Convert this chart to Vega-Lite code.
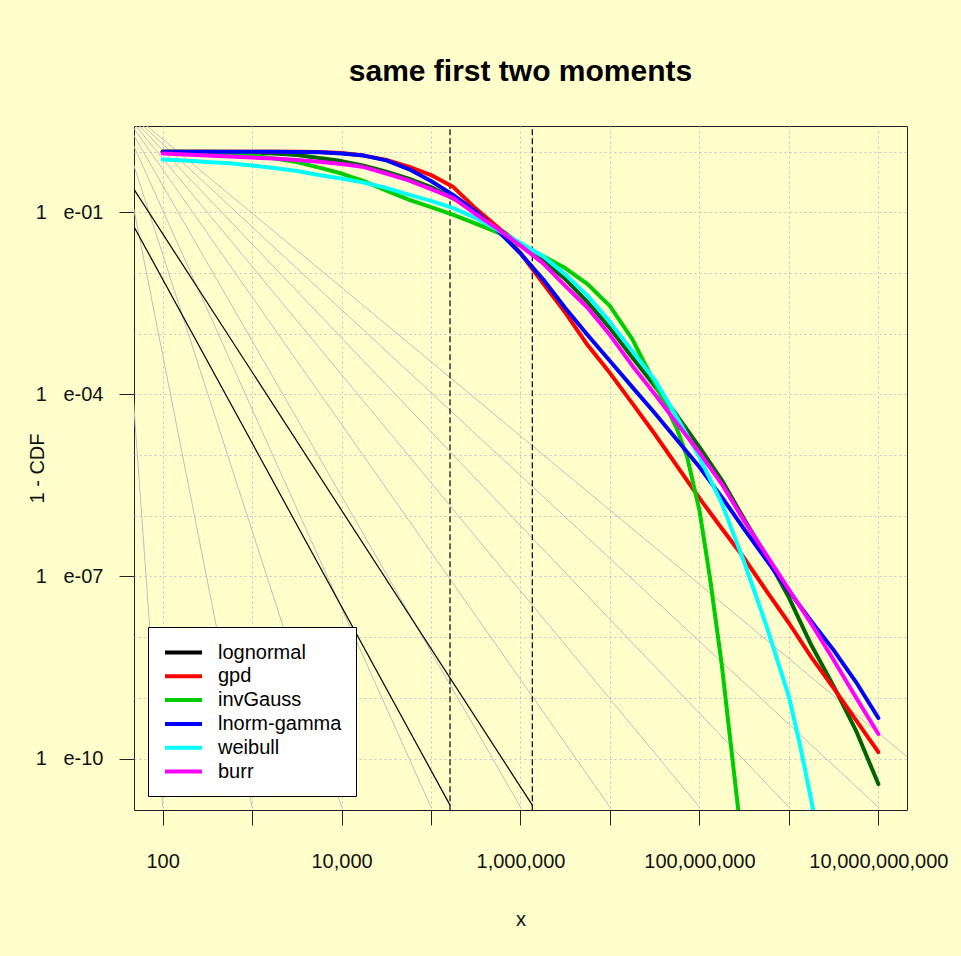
{
  "$schema": "https://vega.github.io/schema/vega-lite/v6.json",
  "width": 773,
  "height": 684,
  "autosize": {"type": "none"},
  "padding": {"left": 134, "top": 126, "right": 54, "bottom": 146},
  "background": "#FFFFCC",
  "config": {
    "view": {"stroke": "#222222", "strokeWidth": 1},
    "font": "Liberation Sans"
  },
  "title": {
    "text": "same first two moments",
    "font": "Liberation Sans",
    "fontSize": 30,
    "fontWeight": "bold",
    "color": "#000000",
    "anchor": "middle",
    "offset": 39
  },
  "datasets": {
    "curves": [
      {"series":"lognormal","x":100,"y":0.992},{"series":"lognormal","x":177.8,"y":0.992},{"series":"lognormal","x":316.2,"y":0.992},{"series":"lognormal","x":562.3,"y":0.989},{"series":"lognormal","x":1000,"y":0.970},{"series":"lognormal","x":1778,"y":0.934},{"series":"lognormal","x":3162,"y":0.876},{"series":"lognormal","x":5623,"y":0.782},{"series":"lognormal","x":1e4,"y":0.697},{"series":"lognormal","x":1.778e4,"y":0.588},{"series":"lognormal","x":3.162e4,"y":0.468},{"series":"lognormal","x":5.623e4,"y":0.358},{"series":"lognormal","x":1e5,"y":0.260},{"series":"lognormal","x":1.778e5,"y":0.168},{"series":"lognormal","x":3.162e5,"y":0.1028},{"series":"lognormal","x":5.623e5,"y":0.0550},{"series":"lognormal","x":1e6,"y":0.0299},{"series":"lognormal","x":1.778e6,"y":0.0163},{"series":"lognormal","x":3.162e6,"y":7.94e-3},{"series":"lognormal","x":5.623e6,"y":3.32e-3},{"series":"lognormal","x":1e7,"y":1.236e-3},{"series":"lognormal","x":1.778e7,"y":4.04e-4},{"series":"lognormal","x":3.162e7,"y":1.37e-4},{"series":"lognormal","x":5.623e7,"y":4.48e-5},{"series":"lognormal","x":1e8,"y":1.355e-5},{"series":"lognormal","x":1.778e8,"y":3.87e-6},{"series":"lognormal","x":3.162e8,"y":8.83e-7},{"series":"lognormal","x":5.623e8,"y":2.13e-7},{"series":"lognormal","x":1e9,"y":4.49e-8},{"series":"lognormal","x":1.778e9,"y":7.41e-9},{"series":"lognormal","x":3.162e9,"y":1.56e-9},{"series":"lognormal","x":5.623e9,"y":2.89e-10},{"series":"lognormal","x":1e10,"y":3.80e-11},
      {"series":"gpd","x":100,"y":0.992},{"series":"gpd","x":177.8,"y":0.992},{"series":"gpd","x":316.2,"y":0.992},{"series":"gpd","x":562.3,"y":0.992},{"series":"gpd","x":1000,"y":0.992},{"series":"gpd","x":1778,"y":0.992},{"series":"gpd","x":3162,"y":0.992},{"series":"gpd","x":5623,"y":0.981},{"series":"gpd","x":1e4,"y":0.945},{"series":"gpd","x":1.778e4,"y":0.859},{"series":"gpd","x":3.162e4,"y":0.730},{"series":"gpd","x":5.623e4,"y":0.566},{"series":"gpd","x":1e5,"y":0.410},{"series":"gpd","x":1.778e5,"y":0.260},{"series":"gpd","x":3.162e5,"y":0.1151},{"series":"gpd","x":5.623e5,"y":0.0560},{"series":"gpd","x":1e6,"y":0.0213},{"series":"gpd","x":1.778e6,"y":6.82e-3},{"series":"gpd","x":3.162e6,"y":2.23e-3},{"series":"gpd","x":5.623e6,"y":6.49e-4},{"series":"gpd","x":1e7,"y":2.24e-4},{"series":"gpd","x":1.778e7,"y":7.10e-5},{"series":"gpd","x":3.162e7,"y":2.22e-5},{"series":"gpd","x":5.623e7,"y":6.59e-6},{"series":"gpd","x":1e8,"y":1.95e-6},{"series":"gpd","x":1.778e8,"y":6.18e-7},{"series":"gpd","x":3.162e8,"y":2.01e-7},{"series":"gpd","x":5.623e8,"y":5.74e-8},{"series":"gpd","x":1e9,"y":1.71e-8},{"series":"gpd","x":1.778e9,"y":4.70e-9},{"series":"gpd","x":3.162e9,"y":1.45e-9},{"series":"gpd","x":5.623e9,"y":4.31e-10},{"series":"gpd","x":1e10,"y":1.28e-10},
      {"series":"invGauss","x":100,"y":0.992},{"series":"invGauss","x":177.8,"y":0.989},{"series":"invGauss","x":316.2,"y":0.974},{"series":"invGauss","x":562.3,"y":0.927},{"series":"invGauss","x":1000,"y":0.859},{"series":"invGauss","x":1778,"y":0.767},{"series":"invGauss","x":3162,"y":0.671},{"series":"invGauss","x":5623,"y":0.545},{"series":"invGauss","x":1e4,"y":0.435},{"series":"invGauss","x":1.778e4,"y":0.327},{"series":"invGauss","x":3.162e4,"y":0.228},{"series":"invGauss","x":5.623e4,"y":0.162},{"series":"invGauss","x":1e5,"y":0.122},{"series":"invGauss","x":1.778e5,"y":0.0910},{"series":"invGauss","x":3.162e5,"y":0.0652},{"series":"invGauss","x":5.623e5,"y":0.0463},{"series":"invGauss","x":1e6,"y":0.0282},{"series":"invGauss","x":1.778e6,"y":0.0190},{"series":"invGauss","x":3.162e6,"y":0.01205},{"series":"invGauss","x":5.623e6,"y":6.56e-3},{"series":"invGauss","x":1e7,"y":2.85e-3},{"series":"invGauss","x":1.778e7,"y":8.15e-4},{"series":"invGauss","x":3.162e7,"y":1.53e-4},{"series":"invGauss","x":5.623e7,"y":2.68e-5},{"series":"invGauss","x":7.24e7,"y":9.62e-6},{"series":"invGauss","x":1e8,"y":1.24e-6},{"series":"invGauss","x":1.312e8,"y":9.42e-8},{"series":"invGauss","x":1.778e8,"y":3.47e-9},{"series":"invGauss","x":2.193e8,"y":2.26e-10},{"series":"invGauss","x":2.716e8,"y":1.42e-11},{"series":"invGauss","x":2.985e8,"y":3.76e-12},
      {"series":"lnorm-gamma","x":100,"y":0.992},{"series":"lnorm-gamma","x":177.8,"y":0.992},{"series":"lnorm-gamma","x":316.2,"y":0.992},{"series":"lnorm-gamma","x":562.3,"y":0.992},{"series":"lnorm-gamma","x":1000,"y":0.992},{"series":"lnorm-gamma","x":1778,"y":0.992},{"series":"lnorm-gamma","x":3162,"y":0.989},{"series":"lnorm-gamma","x":5623,"y":0.974},{"series":"lnorm-gamma","x":1e4,"y":0.934},{"series":"lnorm-gamma","x":1.778e4,"y":0.859},{"series":"lnorm-gamma","x":3.162e4,"y":0.716},{"series":"lnorm-gamma","x":5.623e4,"y":0.515},{"series":"lnorm-gamma","x":1e5,"y":0.327},{"series":"lnorm-gamma","x":1.778e5,"y":0.192},{"series":"lnorm-gamma","x":3.162e5,"y":0.1028},{"series":"lnorm-gamma","x":5.623e5,"y":0.049},{"series":"lnorm-gamma","x":1e6,"y":0.0209},{"series":"lnorm-gamma","x":1.778e6,"y":7.94e-3},{"series":"lnorm-gamma","x":3.162e6,"y":2.64e-3},{"series":"lnorm-gamma","x":5.623e6,"y":9.48e-4},{"series":"lnorm-gamma","x":1e7,"y":3.54e-4},{"series":"lnorm-gamma","x":1.778e7,"y":1.318e-4},{"series":"lnorm-gamma","x":3.162e7,"y":4.92e-5},{"series":"lnorm-gamma","x":5.623e7,"y":1.766e-5},{"series":"lnorm-gamma","x":1e8,"y":6.34e-6},{"series":"lnorm-gamma","x":1.778e8,"y":2.03e-6},{"series":"lnorm-gamma","x":3.162e8,"y":6.04e-7},{"series":"lnorm-gamma","x":5.623e8,"y":1.862e-7},{"series":"lnorm-gamma","x":1e9,"y":5.74e-8},{"series":"lnorm-gamma","x":1.778e9,"y":1.84e-8},{"series":"lnorm-gamma","x":3.162e9,"y":6.12e-9},{"series":"lnorm-gamma","x":5.623e9,"y":1.82e-9},{"series":"lnorm-gamma","x":1e10,"y":4.65e-10},
      {"series":"weibull","x":100,"y":0.744},{"series":"weibull","x":177.8,"y":0.711},{"series":"weibull","x":316.2,"y":0.671},{"series":"weibull","x":562.3,"y":0.640},{"series":"weibull","x":1000,"y":0.588},{"series":"weibull","x":1778,"y":0.535},{"series":"weibull","x":3162,"y":0.478},{"series":"weibull","x":5623,"y":0.410},{"series":"weibull","x":1e4,"y":0.359},{"series":"weibull","x":1.778e4,"y":0.308},{"series":"weibull","x":3.162e4,"y":0.252},{"series":"weibull","x":5.623e4,"y":0.196},{"series":"weibull","x":1e5,"y":0.1545},{"series":"weibull","x":1.778e5,"y":0.1172},{"series":"weibull","x":3.162e5,"y":0.0802},{"series":"weibull","x":5.623e5,"y":0.0505},{"series":"weibull","x":1e6,"y":0.0313},{"series":"weibull","x":1.778e6,"y":0.0190},{"series":"weibull","x":3.162e6,"y":9.48e-3},{"series":"weibull","x":5.623e6,"y":4.23e-3},{"series":"weibull","x":1e7,"y":1.55e-3},{"series":"weibull","x":1.778e7,"y":5.16e-4},{"series":"weibull","x":3.162e7,"y":1.75e-4},{"series":"weibull","x":5.623e7,"y":4.15e-5},{"series":"weibull","x":1e8,"y":9.27e-6},{"series":"weibull","x":1.778e8,"y":1.60e-6},{"series":"weibull","x":3.162e8,"y":1.73e-7},{"series":"weibull","x":5.623e8,"y":1.52e-8},{"series":"weibull","x":1e9,"y":1.05e-9},{"series":"weibull","x":1.33e9,"y":1.67e-10},{"series":"weibull","x":1.778e9,"y":2.07e-11},{"series":"weibull","x":2.089e9,"y":5.5e-12},
      {"series":"burr","x":100,"y":0.934},{"series":"burr","x":177.8,"y":0.899},{"series":"burr","x":316.2,"y":0.866},{"series":"burr","x":562.3,"y":0.827},{"series":"burr","x":1000,"y":0.797},{"series":"burr","x":1778,"y":0.767},{"series":"burr","x":3162,"y":0.724},{"series":"burr","x":5623,"y":0.679},{"series":"burr","x":1e4,"y":0.622},{"series":"burr","x":1.778e4,"y":0.556},{"series":"burr","x":3.162e4,"y":0.435},{"series":"burr","x":5.623e4,"y":0.336},{"series":"burr","x":1e5,"y":0.241},{"series":"burr","x":1.778e5,"y":0.171},{"series":"burr","x":3.162e5,"y":0.0933},{"series":"burr","x":5.623e5,"y":0.0528},{"series":"burr","x":1e6,"y":0.0282},{"series":"burr","x":1.778e6,"y":0.01455},{"series":"burr","x":3.162e6,"y":6.15e-3},{"series":"burr","x":5.623e6,"y":2.67e-3},{"series":"burr","x":1e7,"y":9.48e-4},{"series":"burr","x":1.778e7,"y":2.97e-4},{"series":"burr","x":3.162e7,"y":1.01e-4},{"series":"burr","x":5.623e7,"y":3.30e-5},{"series":"burr","x":1e8,"y":1.10e-5},{"series":"burr","x":1.778e8,"y":3.33e-6},{"series":"burr","x":3.162e8,"y":8.24e-7},{"series":"burr","x":5.623e8,"y":2.25e-7},{"series":"burr","x":1e9,"y":6.05e-8},{"series":"burr","x":1.778e9,"y":1.67e-8},{"series":"burr","x":3.162e9,"y":4.20e-9},{"series":"burr","x":5.623e9,"y":1.01e-9},{"series":"burr","x":1e10,"y":2.54e-10}
    ],
    "fan": [
      {"id":"k2","x":26.92,"y":8.02},{"id":"k2","x":1e2,"y":1.585e-11},
      {"id":"k3","x":26.92,"y":8.02},{"id":"k3","x":1e3,"y":1.585e-11},
      {"id":"k4","x":26.92,"y":8.02},{"id":"k4","x":1e4,"y":1.585e-11},
      {"id":"k5","x":26.92,"y":8.02},{"id":"k5","x":1e5,"y":1.585e-11},
      {"id":"k6","x":26.92,"y":8.02},{"id":"k6","x":1e6,"y":1.585e-11},
      {"id":"k7","x":26.92,"y":8.02},{"id":"k7","x":1e7,"y":1.585e-11},
      {"id":"k8","x":26.92,"y":8.02},{"id":"k8","x":1e8,"y":1.585e-11},
      {"id":"k9","x":26.92,"y":8.02},{"id":"k9","x":1e9,"y":1.585e-11},
      {"id":"k10","x":26.92,"y":8.02},{"id":"k10","x":1e10,"y":1.585e-11},
      {"id":"k11","x":26.92,"y":8.02},{"id":"k11","x":1e11,"y":1.585e-11}
    ],
    "bounds": [
      {"id":"b1","x":47.86,"y":0.238},{"id":"b1","x":1.355e6,"y":1.71e-11},
      {"id":"b2","x":47.86,"y":0.0577},{"id":"b2","x":1.63e5,"y":1.71e-11}
    ],
    "marks": [
      {"id":"m1","x":1.63e5,"y":100},{"id":"m1","x":1.63e5,"y":1e-13},
      {"id":"m2","x":1.355e6,"y":100},{"id":"m2","x":1.355e6,"y":1e-13}
    ]
  },
  "encoding": {
    "x": {
      "field": "x",
      "type": "quantitative",
      "scale": {"type": "log", "domain": [47.863, 2.0893e10], "nice": false},
      "axis": {
        "values": [1e2, 1e3, 1e4, 1e5, 1e6, 1e7, 1e8, 1e9, 1e10],
        "grid": true,
        "gridColor": "#C4C4C4",
        "gridDash": [2, 3],
        "gridWidth": 1,
        "domain": false,
        "tickSize": 15,
        "tickColor": "#222222",
        "tickWidth": 1,
        "labelExpr": "(round(log(datum.value)/LN10) % 2 == 0) ? format(datum.value, ',') : ''",
        "labelFont": "Liberation Sans",
        "labelFontSize": 20,
        "labelColor": "#111111",
        "labelPadding": 26,
        "labelFlush": false,
        "labelOverlap": false,
        "title": "x",
        "titleFont": "Liberation Sans",
        "titleFontSize": 20,
        "titleFontWeight": "normal",
        "titleColor": "#111111",
        "titlePadding": 38
      }
    },
    "y": {
      "field": "y",
      "type": "quantitative",
      "scale": {"type": "log", "domain": [1.42e-11, 2.64], "nice": false},
      "axis": {
        "values": [1, 0.1, 0.01, 0.001, 0.0001, 1e-5, 1e-6, 1e-7, 1e-8, 1e-9, 1e-10],
        "grid": true,
        "gridColor": "#C4C4C4",
        "gridDash": [2, 3],
        "gridWidth": 1,
        "domain": false,
        "tickSize": 15,
        "tickColor": "#222222",
        "tickWidth": 1,
        "tickOpacity": {"condition": {"test": "indexof([-1,-4,-7,-10], round(log(datum.value)/LN10)) >= 0", "value": 1}, "value": 0},
        "labelExpr": "round(log(datum.value)/LN10) == -1 ? '1\u00a0\u00a0\u00a0e-01' : round(log(datum.value)/LN10) == -4 ? '1\u00a0\u00a0\u00a0e-04' : round(log(datum.value)/LN10) == -7 ? '1\u00a0\u00a0\u00a0e-07' : round(log(datum.value)/LN10) == -10 ? '1\u00a0\u00a0\u00a0e-10' : ''",
        "labelFont": "Liberation Sans",
        "labelFontSize": 20,
        "labelColor": "#111111",
        "labelPadding": 16,
        "labelFlush": false,
        "labelOverlap": false,
        "title": "1 - CDF",
        "titleFont": "Liberation Sans",
        "titleFontSize": 20,
        "titleFontWeight": "normal",
        "titleColor": "#111111",
        "titlePadding": -12
      }
    }
  },
  "layer": [
    {
      "data": {"name": "fan"},
      "mark": {"type": "line", "clip": true, "color": "#BEBEBE", "strokeWidth": 1},
      "encoding": {"detail": {"field": "id"}}
    },
    {
      "data": {"name": "bounds"},
      "mark": {"type": "line", "clip": true, "color": "#000000", "strokeWidth": 1.2},
      "encoding": {"detail": {"field": "id"}}
    },
    {
      "data": {"name": "marks"},
      "mark": {"type": "line", "clip": true, "color": "#000000", "strokeWidth": 1.2, "strokeDash": [6, 3]},
      "encoding": {"detail": {"field": "id"}}
    },
    {
      "data": {"name": "curves"},
      "transform": [{"filter": "datum.series == 'lognormal'"}],
      "mark": {"type": "line", "clip": true, "color": "#006400", "strokeWidth": 4, "strokeCap": "round", "strokeJoin": "round"},
      "encoding": {"detail": {"field": "series"}}
    },
    {
      "data": {"name": "curves"},
      "transform": [{"filter": "datum.series != 'lognormal'"}],
      "mark": {"type": "line", "clip": true, "strokeWidth": 4, "strokeCap": "round", "strokeJoin": "round"},
      "encoding": {
        "color": {
          "field": "series",
          "type": "nominal",
          "scale": {
            "domain": ["lognormal", "gpd", "invGauss", "lnorm-gamma", "weibull", "burr"],
            "range": ["#000000", "#FF0000", "#00CD00", "#0000FF", "#00FFFF", "#FF00FF"]
          },
          "legend": {
            "title": null,
            "orient": "bottom-left",
            "offset": 14,
            "fillColor": "#FFFFFF",
            "strokeColor": "#000000",
            "padding": 14,
            "cornerRadius": 0,
            "symbolType": "M-2,0L2,0",
            "symbolStrokeWidth": 4,
            "symbolSize": 342,
            "symbolOffset": 10,
            "labelFont": "Liberation Sans",
            "labelFontSize": 20,
            "labelColor": "#000000",
            "labelOffset": 23,
            "labelLimit": 300,
            "rowPadding": 1.8
          }
        }
      }
    }
  ]
}
